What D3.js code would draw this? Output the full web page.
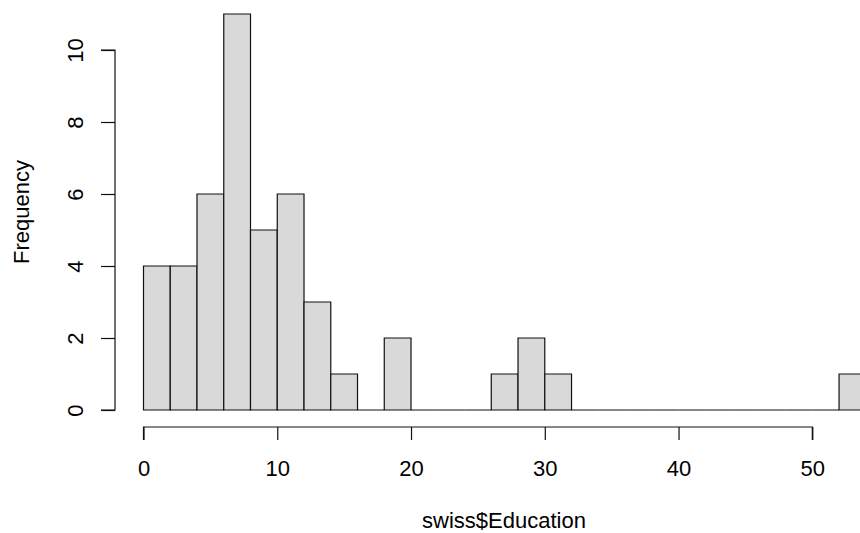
<!DOCTYPE html>
<html>
<head>
<meta charset="utf-8">
<script src="https://cdn.jsdelivr.net/npm/d3@7"></script>
<style>
  html, body { margin: 0; padding: 0; background: #fff; }
  svg { display: block; }
  text { font-family: "Liberation Sans", Arial, Helvetica, sans-serif; fill: #000; }
</style>
</head>
<body>
<svg id="chart" width="860" height="533"></svg>
<script>
// Histogram of swiss$Education, bins of width 2
const binStarts = [0, 2, 4, 6, 8, 10, 12, 14, 16, 18, 20, 22, 24, 26, 28, 30, 32, 34, 36, 38, 40, 42, 44, 46, 48, 50, 52];
const binWidth = 2;
const counts = [4, 4, 6, 11, 5, 6, 3, 1, 0, 2, 0, 0, 0, 1, 2, 1, 0, 0, 0, 0, 0, 0, 0, 0, 0, 0, 1];
const xTicks = [0, 10, 20, 30, 40, 50];
const yTicks = [0, 2, 4, 6, 8, 10];
const xTitle = "swiss$Education";
const yTitle = "Frequency";

const fontSize = "22px";
const svg = d3.select("#chart");

const x = d3.scaleLinear().domain([0, 50]).range([143.5, 812.3]);
const y = d3.scaleLinear().domain([0, 10]).range([410, 50]);

const bins = binStarts.map((s, i) => ({ x0: s, x1: s + binWidth, n: counts[i] }));

// Bars (paths so that empty bins still show as a flat line)
svg.append("g")
  .selectAll("path")
  .data(bins)
  .join("path")
  .attr("d", d => `M${x(d.x0)},${y(0)}V${y(d.n)}H${x(d.x1)}V${y(0)}Z`)
  .attr("fill", "#d9d9d9")
  .attr("stroke", "#111")
  .attr("stroke-width", 1.2);

// X axis
const xAxis = svg.append("g")
  .attr("transform", `translate(0,427)`)
  .call(d3.axisBottom(x).tickValues(xTicks).tickSize(13).tickFormat(d3.format("d")));
xAxis.select(".domain").attr("d", `M${x(0)},13V0H${x(50)}V13`).attr("stroke", "#111").attr("stroke-width", 1.2);
xAxis.selectAll("line").attr("stroke", "#111").attr("stroke-width", 1.2);
xAxis.selectAll("text")
  .style("font-size", fontSize)
  .attr("fill", "#000")
  .attr("y", 41)
  .attr("dy", "0.36em");

// Y axis
const yAxis = svg.append("g")
  .attr("transform", `translate(115,0)`)
  .call(d3.axisLeft(y).tickValues(yTicks).tickSize(14).tickFormat(d3.format("d")));
yAxis.select(".domain").attr("d", `M-14,${y(0)}H0V${y(10)}H-14`).attr("stroke", "#111").attr("stroke-width", 1.2);
yAxis.selectAll("line").attr("stroke", "#111").attr("stroke-width", 1.2);
yAxis.selectAll("text")
  .style("font-size", fontSize)
  .attr("fill", "#000")
  .attr("x", null)
  .attr("text-anchor", "middle")
  .attr("transform", "translate(-40,0) rotate(-90)")
  .attr("dy", "0.36em");

// Axis titles
svg.append("text")
  .attr("x", 504).attr("y", 528)
  .attr("text-anchor", "middle")
  .style("font-size", fontSize)
  .text(xTitle);

svg.append("text")
  .attr("transform", "translate(29,212) rotate(-90)")
  .attr("text-anchor", "middle")
  .style("font-size", fontSize)
  .text(yTitle);
</script>
</body>
</html>
